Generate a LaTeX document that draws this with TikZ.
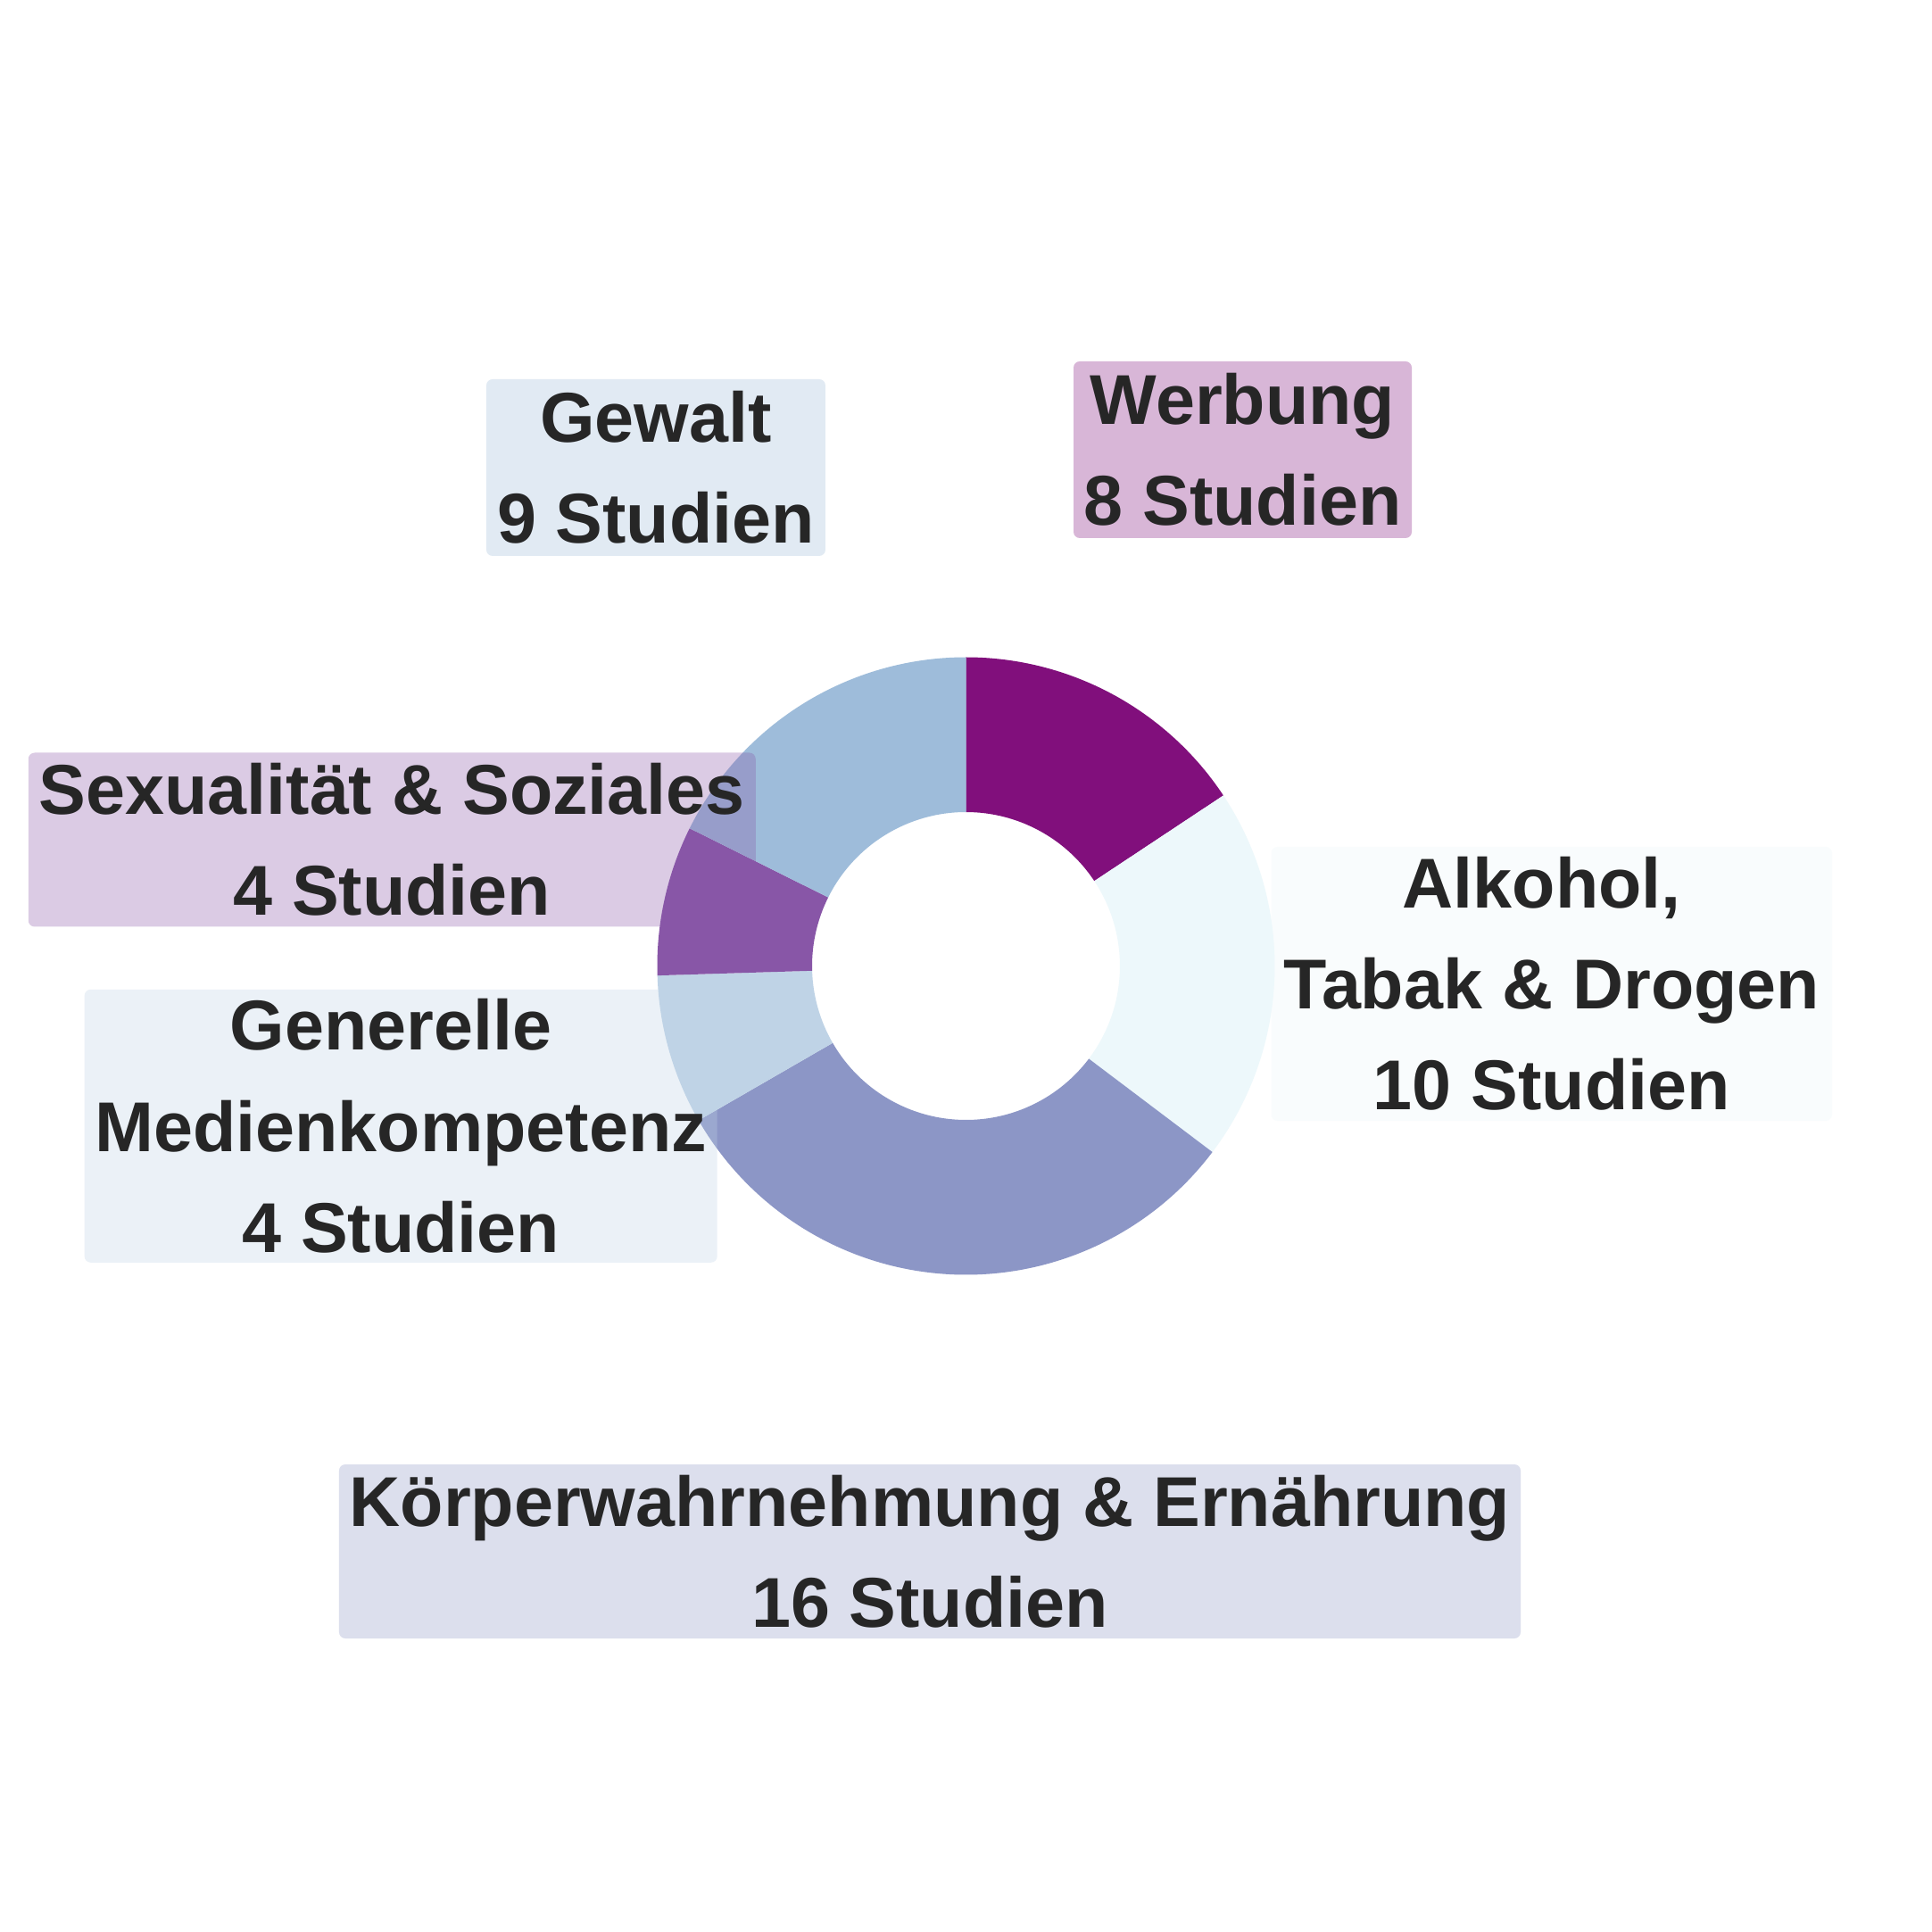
\documentclass[tikz,border=0pt]{standalone}
\usepackage{fontspec}
\setmainfont{Liberation Sans}

\definecolor{werbungcol}{HTML}{810F7C}
\definecolor{alkoholcol}{HTML}{EDF8FB}
\definecolor{koerpercol}{HTML}{8C96C6}
\definecolor{generellecol}{HTML}{BFD3E6}
\definecolor{sexualcol}{HTML}{8856A7}
\definecolor{gewaltcol}{HTML}{9EBCDA}
\definecolor{textdark}{HTML}{262626}

\newcommand{\tailspace}{\rule{0.278em}{0pt}}

\tikzset{
    topiclabel/.style={
        fill opacity=0.3,
        text opacity=1,
        text=textdark,
        rounded corners=0.07cm,
        inner sep=0pt,
        align=center,
        font=\fontsize{22.5}{32.2}\selectfont\bfseries,
    },
}

\begin{document}
\begin{tikzpicture}
        \fill[white] (-10.825,-10.825) rectangle (10.825,10.825);
        \useasboundingbox (-10.825,-10.825) rectangle (10.825,10.825);

        % Donut (51 Studien, 360/51 = 7.058824 Grad je Studie)
        \foreach \from/\to/\col in {0/8/werbungcol, 8/18/alkoholcol, 18/34/koerpercol,
                34/38/generellecol, 38/42/sexualcol, 42/51/gewaltcol}{
            \fill[\col] ({90-\from*7.058824}:3.46)
                arc[start angle={90-\from*7.058824}, end angle={90-\to*7.058824}, radius=3.46]
                -- ({90-\to*7.058824}:1.725)
                arc[start angle={90-\to*7.058824}, end angle={90-\from*7.058824}, radius=1.725]
                -- cycle;
        }

        % Gewalt
        \node [topiclabel, fill=gewaltcol,
            minimum width=3.80cm,
            minimum height=1.98cm,
        ] (gewalt) at (-3.475,5.585) {Gewalt\\9 Studien};

        % Werbung
        \node [topiclabel, fill=werbungcol,
            minimum width=3.79cm,
            minimum height=1.98cm,
        ] (werbung) at (3.10,5.785) {Werbung\\8 Studien};

        % Sexualitaet
        \node [topiclabel, fill=sexualcol,
            minimum width=8.15cm,
            minimum height=1.95cm,
        ] (sexualitaet) at (-6.432,1.415) {Sexualität \& Soziales\\4 Studien};

        % Generelle
        \node [topiclabel, fill=generellecol,
            minimum width=7.09cm,
            minimum height=3.06cm,
        ] (generelle) at (-6.333,-1.793) {Generelle\tailspace\\Medienkompetenz\\4 Studien};

        % Alkohol
        \node [topiclabel, fill=alkoholcol,
            minimum width=6.285cm,
            minimum height=3.07cm,
        ] (alkohol) at (6.563,-0.20) {Alkohol,\tailspace\\Tabak \& Drogen\\10 Studien};

        % Koerper
        \node [topiclabel, fill=koerpercol,
            minimum width=13.24cm,
            minimum height=1.95cm,
        ] (koerper) at (-0.405,-6.56) {Körperwahrnehmung \& Ernährung\\16 Studien};
\end{tikzpicture}
\end{document}
